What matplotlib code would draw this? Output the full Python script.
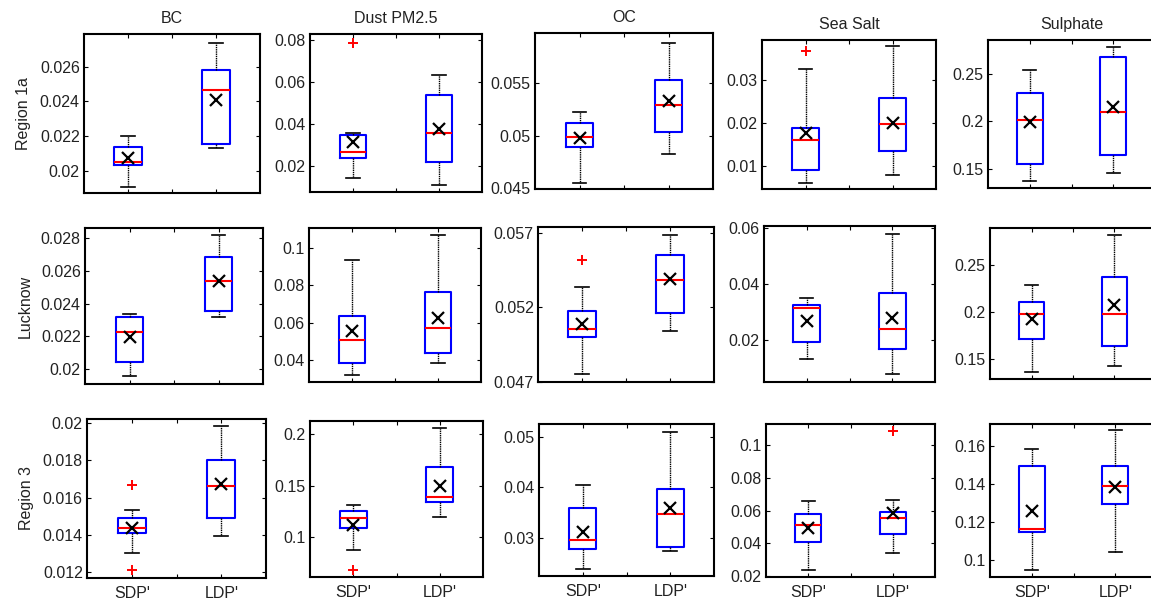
import matplotlib
matplotlib.use("Agg")
import matplotlib.pyplot as plt

plt.rcParams['font.family'] = ['Liberation Sans', 'DejaVu Sans']

species = ['BC', 'Dust PM2.5', 'OC', 'Sea Salt', 'Sulphate']
regions = ['Region 1a', 'Lucknow', 'Region 3']
groups = ["SDP'", "LDP'"]

# each row: [whisker low, q1, median, q3, whisker high, mean] per species
r1a_sdp = [[0.01903, 0.02033, 0.02052, 0.02136, 0.0220, 0.02072],
           [0.0141, 0.0237, 0.0265, 0.0346, 0.0356, 0.0314],
           [0.04551, 0.04889, 0.0499, 0.05124, 0.05229, 0.04978],
           [0.0061, 0.0090, 0.0160, 0.0187, 0.0325, 0.0177],
           [0.1366, 0.1546, 0.2018, 0.2295, 0.2542, 0.1990]]
r1a_ldp = [[0.0213, 0.02155, 0.02468, 0.02584, 0.02736, 0.02406],
           [0.0108, 0.0220, 0.0356, 0.0537, 0.0630, 0.0376],
           [0.04828, 0.05035, 0.05293, 0.05532, 0.05889, 0.05334],
           [0.0078, 0.0135, 0.0197, 0.0259, 0.0379, 0.0200],
           [0.1454, 0.1645, 0.2095, 0.2684, 0.2783, 0.2152]]
luck_sdp = [[0.0196, 0.02046, 0.02224, 0.02315, 0.02339, 0.02194],
            [0.0323, 0.0386, 0.0507, 0.0636, 0.0934, 0.0554],
            [0.04751, 0.0500, 0.05055, 0.05178, 0.05338, 0.05088],
            [0.0135, 0.0194, 0.0316, 0.0325, 0.0351, 0.0269],
            [0.1358, 0.1716, 0.1979, 0.2106, 0.2294, 0.1926]]
luck_ldp = [[0.02319, 0.02354, 0.0254, 0.02685, 0.02816, 0.0254],
            [0.0386, 0.0437, 0.0573, 0.0763, 0.1071, 0.0628],
            [0.05044, 0.05164, 0.05385, 0.05555, 0.05687, 0.05388],
            [0.0079, 0.0168, 0.0242, 0.0368, 0.0580, 0.0280],
            [0.1429, 0.1635, 0.1979, 0.2376, 0.2826, 0.2071]]
r3_sdp = [[0.01306, 0.01412, 0.01437, 0.01489, 0.01536, 0.01437],
          [0.0870, 0.1088, 0.1182, 0.1250, 0.1308, 0.1120],
          [0.0237, 0.0277, 0.0296, 0.0359, 0.0405, 0.0311],
          [0.0235, 0.0406, 0.0514, 0.0577, 0.0657, 0.0492],
          [0.0948, 0.1149, 0.1163, 0.1494, 0.1583, 0.1261]]
r3_ldp = [[0.01395, 0.01489, 0.01664, 0.0180, 0.01982, 0.0167],
          [0.1195, 0.1338, 0.1393, 0.1679, 0.2062, 0.1497],
          [0.0273, 0.0282, 0.0347, 0.0397, 0.0510, 0.0358],
          [0.0343, 0.0457, 0.0553, 0.0594, 0.0667, 0.0586],
          [0.1044, 0.1294, 0.1391, 0.1494, 0.1683, 0.1383]]

# outliers: (row, col, group) -> values
outliers = {(0, 1, 0): [0.0785], (0, 3, 0): [0.0368],
            (1, 2, 0): [0.05517],
            (2, 0, 0): [0.01666, 0.01211], (2, 1, 0): [0.0675],
            (2, 3, 1): [0.1086]}

ylims = [[(0.0187, 0.0279), (0.0075, 0.0827), (0.0449, 0.0598), (0.0046, 0.0393), (0.1295, 0.286)],
         [(0.0191, 0.0286), (0.0284, 0.1107), (0.047, 0.0574), (0.0052, 0.0607), (0.1287, 0.2897)],
         [(0.0117, 0.0202), (0.061, 0.213), (0.0224, 0.0525), (0.0194, 0.1129), (0.0913, 0.1714)]]
yticks = [[[0.02, 0.022, 0.024, 0.026], [0.02, 0.04, 0.06, 0.08], [0.045, 0.05, 0.055],
           [0.01, 0.02, 0.03], [0.15, 0.2, 0.25]],
          [[0.02, 0.022, 0.024, 0.026, 0.028], [0.04, 0.06, 0.08, 0.1], [0.047, 0.052, 0.057],
           [0.02, 0.04, 0.06], [0.15, 0.2, 0.25]],
          [[0.012, 0.014, 0.016, 0.018, 0.02], [0.1, 0.15, 0.2], [0.03, 0.04, 0.05],
           [0.02, 0.04, 0.06, 0.08, 0.1], [0.1, 0.12, 0.14, 0.16]]]

# panel boxes in pixels: left, top, right, bottom
boxes = [[(84, 34, 260, 193), (310, 34, 482, 192), (535, 33, 713, 189), (762, 40, 936, 189), (988, 40, 1155, 188)],
         [(85, 228, 263, 384), (309, 228, 481, 382), (538, 227, 714, 382), (764, 226, 935, 382), (990, 228, 1156, 379)],
         [(87, 419, 266, 578), (310, 421, 483, 577), (539, 424, 714, 576), (766, 424, 935, 577), (990, 424, 1157, 577)]]

W, H = 1151, 599
fig = plt.figure(figsize=(W / 100, H / 100), dpi=100)

data = [(r1a_sdp, r1a_ldp), (luck_sdp, luck_ldp), (r3_sdp, r3_ldp)]

for i in range(3):
    for j in range(5):
        l, t, r, b = boxes[i][j]
        ax = fig.add_axes([l / W, 1 - b / H, (r - l) / W, (b - t) / H])
        stats = []
        for g in range(2):
            v = data[i][g][j]
            stats.append(dict(whislo=v[0], q1=v[1], med=v[2], q3=v[3], whishi=v[4],
                              mean=v[5], fliers=outliers.get((i, j, g), [])))
        ax.bxp(stats, positions=[1, 2], widths=0.31, showmeans=True,
               boxprops=dict(color='#0000ff', linewidth=1.5),
               medianprops=dict(color='#ff0000', linewidth=1.5),
               whiskerprops=dict(color='black', linewidth=1.0, linestyle=(0, (1, 0.6))),
               capprops=dict(color='black', linewidth=1.2),
               meanprops=dict(marker='x', markeredgecolor='black', markersize=8, markeredgewidth=1.6),
               flierprops=dict(marker='+', markeredgecolor='#ff0000', markersize=7, markeredgewidth=1.4))
        ax.set_xlim(0.5, 2.5)
        ax.set_ylim(*ylims[i][j])
        ax.set_yticks(yticks[i][j])
        ax.set_yticklabels(['%g' % y for y in yticks[i][j]])
        ax.set_xticks([1, 1.5, 2])
        if i == 2:
            ax.set_xticklabels([groups[0], '', groups[1]])
        else:
            ax.set_xticklabels(['', '', ''])
        ax.tick_params(direction='in', top=True, right=True, length=3, width=0.8,
                       labelsize=11.5, labelcolor='#222222')
        ax.tick_params(axis='y', pad=3)
        ax.tick_params(axis='x', pad=6)
        for s in ax.spines.values():
            s.set_linewidth(1.5)
        if i == 0:
            ax.set_title(species[j], fontsize=11.5, pad=8, color='#222222')
        if j == 0:
            ax.set_ylabel(regions[i], fontsize=11.5, labelpad=6, color='#222222')

fig.savefig('out.png', dpi=100)
